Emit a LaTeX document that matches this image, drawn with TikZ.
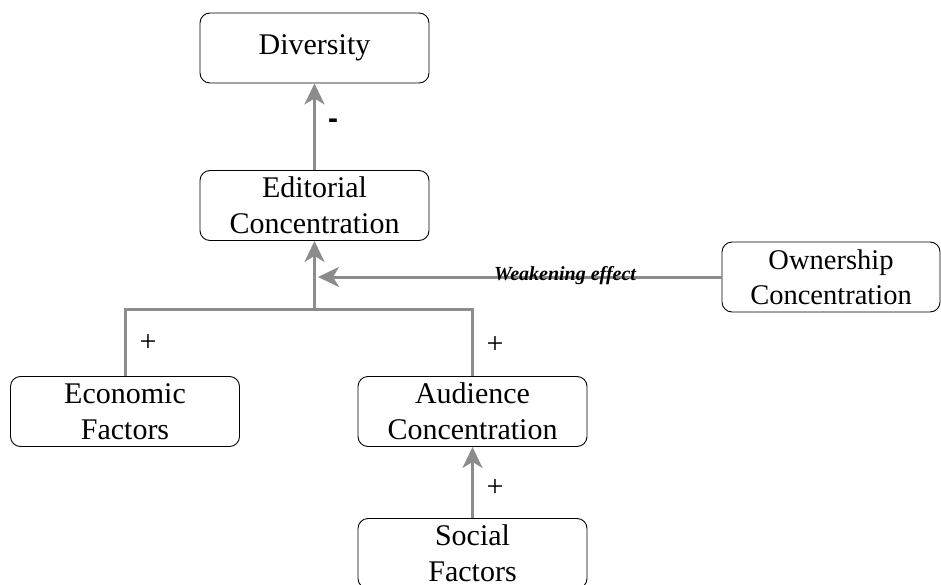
\documentclass[tikz,border=0pt]{standalone}
\usepackage{fontspec}
\setmainfont{Liberation Serif}
\newfontfamily\sansbold{Liberation Sans}
\usetikzlibrary{arrows.meta}
\begin{document}
\begin{tikzpicture}[x=1pt,y=-1pt,
  box/.style={draw=black,line width=0.9pt,rounded corners=10pt,minimum width=229pt,minimum height=70pt,inner sep=0pt,align=center,font=\fontsize{30}{36}\selectfont},
  conn/.style={draw={rgb,255:red,140;green,140;blue,140},line width=3pt},
  arr/.style={conn,-{Stealth[length=21pt,width=20pt,inset=6pt]}},
  sign/.style={font=\fontsize{30}{36}\selectfont,inner sep=0pt}]
\useasboundingbox (0,0) rectangle (941,585);
\node[box] (div) at (314.5,48) {Diversity};
\node[box] (edit) at (314.5,205.5) {Editorial\\Concentration};
\node[box,minimum width=218pt,font=\fontsize{28.5}{35}\selectfont] (own) at (831,277) {Ownership\\Concentration};
\node[box] (eco) at (125,411.5) {Economic\\Factors};
\node[box] (aud) at (472.5,411.5) {Audience\\Concentration};
\node[box] (soc) at (472.5,553.5) {Social\\Factors};
\coordinate (j) at (314.5,309);
\coordinate (wtip) at (318,277);
\draw[arr] (edit.north) -- (div.south);
\draw[conn] (eco.north) |- (j) -| (aud.north);
\draw[arr] (j) -- (edit.south);
\draw[arr] (own.west) -- (wtip);
\draw[arr] (soc.north) -- (aud.south);
\node[font=\fontsize{20}{24}\selectfont\bfseries\itshape,inner sep=0pt] (weak) at (565,276) {Weakening effect};
\node[font=\sansbold\bfseries\fontsize{30}{36}\selectfont,inner sep=0pt] (minus) at (333,124) {-};
\node[sign] (p1) at (148,343) {+};
\node[sign] (p2) at (495,345) {+};
\node[sign] (p3) at (495,488) {+};
\end{tikzpicture}
\end{document}
